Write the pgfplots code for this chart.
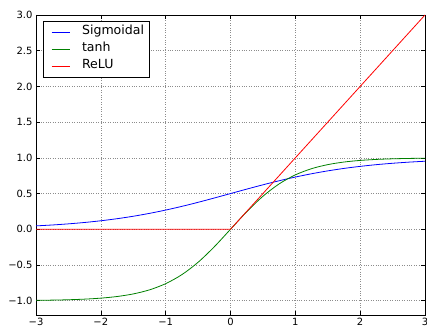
\documentclass[border=0pt]{standalone}
\usepackage{fontspec}
\setmainfont{DejaVu Sans}
\usepackage{pgfplots}
\pgfplotsset{compat=1.18}
\definecolor{mplblue}{rgb}{0,0,1}
\definecolor{mplgreen}{rgb}{0,0.5,0}
\definecolor{mplred}{rgb}{1,0,0}
\begin{document}
\begin{tikzpicture}
\begin{axis}[
  name=ax,
  scale only axis,
  width=389bp, height=300bp,
  xmin=-3, xmax=3, ymin=-1.2, ymax=3.0,
  xtick={-3,-2,-1,0,1,2,3},
  xticklabels={−3,−2,−1,0,1,2,3},
  ytick={-1,-0.5,0,0.5,1,1.5,2,2.5,3},
  yticklabels={−1.0,−0.5,0.0,0.5,1.0,1.5,2.0,2.5,3.0},
  tick align=inside,
  major tick length=4bp,
  tick style={black, line width=0.6pt},
  axis line style={black, line width=0.8pt},
  grid=major,
  grid style={black!45, dotted, line width=0.6pt},
  tick label style={font=\fontsize{10}{12}\selectfont},
  legend cell align=left,
  legend style={at={(rel axis cs:0.02,0.977)}, anchor=north west,
    draw=none, fill=white, name=leg, font=\fontsize{12.6}{14}\selectfont,
    inner xsep=1.5bp, inner ysep=2bp, /tikz/row sep=0bp, /tikz/column sep=8bp,
    nodes={inner xsep=4bp, inner ysep=0bp, text height=10.5bp, text depth=6.5bp}},
]
\addplot[mplblue, line width=0.8pt, smooth, forget plot] coordinates {
(-3,0.0474) (-2.75,0.0601) (-2.5,0.0759) (-2.25,0.0953) (-2,0.1192)
(-1.75,0.1480) (-1.5,0.1824) (-1.25,0.2227) (-1,0.2689) (-0.75,0.3208)
(-0.5,0.3775) (-0.25,0.4378) (0,0.5) (0.25,0.5622) (0.5,0.6225)
(0.75,0.6792) (1,0.7311) (1.25,0.7773) (1.5,0.8176) (1.75,0.8520)
(2,0.8808) (2.25,0.9047) (2.5,0.9241) (2.75,0.9399) (3,0.9526)};
\addplot[mplgreen, line width=0.8pt, smooth, forget plot] coordinates {
(-3,-0.9951) (-2.75,-0.9918) (-2.5,-0.9866) (-2.25,-0.9780) (-2,-0.9640)
(-1.75,-0.9414) (-1.5,-0.9051) (-1.25,-0.8483) (-1,-0.7616) (-0.75,-0.6351)
(-0.5,-0.4621) (-0.25,-0.2449) (0,0) (0.25,0.2449) (0.5,0.4621)
(0.75,0.6351) (1,0.7616) (1.25,0.8483) (1.5,0.9051) (1.75,0.9414)
(2,0.9640) (2.25,0.9780) (2.5,0.9866) (2.75,0.9918) (3,0.9951)};
\addplot[mplred, line width=0.8pt, forget plot] coordinates {(-3,0) (0,0) (3,3)};
\addlegendimage{legend image code/.code={\path (0bp,0bp); \draw[draw=mplblue, line width=0.8pt] (6bp,0bp) -- (24bp,0bp);}}
\addlegendentry{Sigmoidal}
\addlegendimage{legend image code/.code={\path (0bp,0bp); \draw[draw=mplgreen, line width=0.8pt] (6bp,0bp) -- (24bp,0bp);}}
\addlegendentry{tanh}
\addlegendimage{legend image code/.code={\path (0bp,0bp); \draw[draw=mplred, line width=0.8pt] (6bp,0bp) -- (24bp,0bp);}}
\addlegendentry{ReLU}
\end{axis}
\draw[black, line width=0.8pt] (leg.south west) rectangle (leg.north east);
\pgfresetboundingbox
\path ([xshift=-36bp,yshift=-15bp]ax.south west) rectangle ([xshift=2bp,yshift=15bp]ax.north east);
\end{tikzpicture}
\end{document}
